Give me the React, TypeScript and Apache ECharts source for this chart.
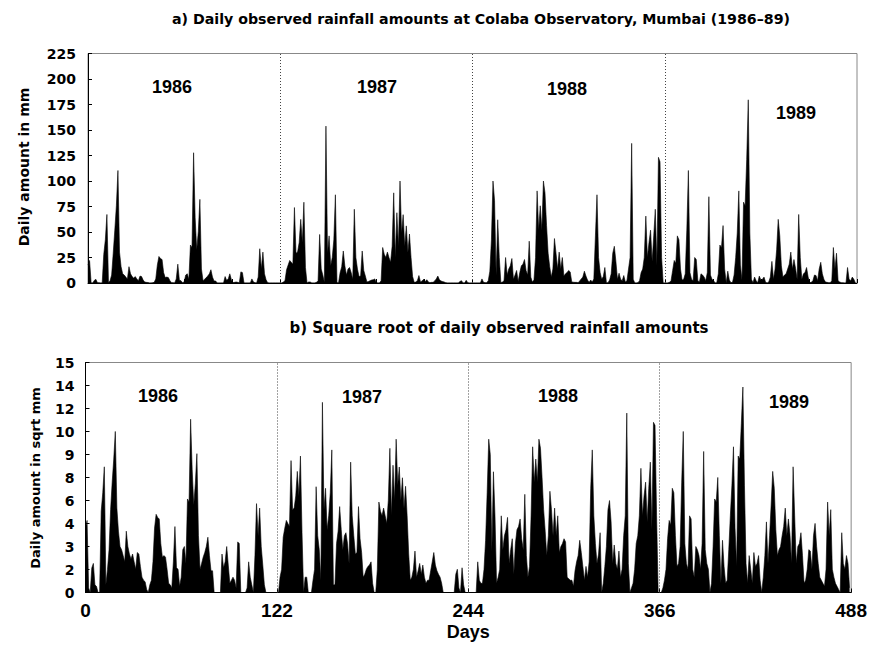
import React, { useEffect, useRef } from "react";
import * as echarts from "echarts";

// Daily rainfall (mm) at Colaba, June-September, 122 days per season
const rain1986 = [
  17.6, 22.1, 0.09, 0, 2.56, 3.6, 0.25, 0.16, 0, 0,
  28.1, 42.3, 67.2, 0.25, 2.25, 7.8, 29.2, 51.8, 75.7, 110.3,
  30.3, 16, 9, 7.8, 5.8, 4, 16, 9, 6.3, 4.8,
  6.3, 4, 2.3, 6.8, 6.3, 2.9, 1, 0.64, 0.49, 0.04,
  0, 0.25, 0.64, 4, 17.6, 26, 24, 23, 10.2, 5.3,
  5.8, 5.3, 2.3, 0.36, 0.25, 0.09, 4, 18.5, 2.6, 2.3,
  0.16, 1, 7.8, 9, 3.6, 37.2, 34.8, 127.7, 64, 32.5,
  50.4, 82, 13.7, 2.3, 3.6, 5.3, 6.8, 9, 13, 5.8,
  2, 2, 0, 0, 0, 0, 0, 6.3, 2.6, 4,
  9, 3.2, 0.36, 0.64, 1, 0.64, 0.09, 10.9, 10.2, 0,
  0, 0, 0, 0.09, 4, 1, 0.25, 0, 5.8, 33.6,
  13.7, 30.3, 9, 3.2, 0.25, 0, 0, 0, 0, 0,
  0, 0,
];
const rain1987 = [
  0, 0, 1, 2.3, 13, 17.6, 22.1, 20.3, 18.5, 74,
  29.2, 30.3, 39.7, 62.4, 39.7, 79.2, 15.2, 0, 1, 1,
  0, 0, 0, 0.64, 2.3, 47.6, 13.7, 7.8, 0.64, 153.8,
  29.2, 46.2, 16.8, 25, 42.3, 86.5, 0.25, 0.25, 10.2, 16,
  31.4, 16.8, 7.8, 13.7, 15.2, 10.2, 3.6, 72.3, 25, 13.7,
  6.3, 6.8, 31.4, 12.3, 6.8, 1, 1.4, 2.3, 2.9, 3.2,
  4, 0.36, 0, 0, 2.3, 34.8, 28.1, 25, 30.3, 25,
  20.3, 36, 88.4, 25, 68.9, 36, 100, 49, 67, 36,
  56, 30, 48, 25, 6.3, 0.64, 1, 2.3, 7.3, 1,
  2, 3.6, 1.4, 3.2, 1, 0.36, 0.64, 0.64, 2, 4,
  6.8, 3.2, 2, 1.4, 1, 0.36, 0, 0, 0, 0,
  0, 0, 0, 0, 1.4, 2.3, 0.09, 0, 2.6, 0.25,
  0, 0,
];
const rain1988 = [
  0, 0, 0, 0, 0, 0, 4, 0.64, 0.36, 0.36,
  2.3, 11.6, 42.3, 100, 81, 7.3, 62, 25, 0.36, 1,
  2.3, 25, 7.8, 13.7, 16.8, 24, 3.6, 7.8, 12.3, 1.4,
  10.2, 16.8, 18.5, 23, 12.3, 7.8, 41, 5.8, 1, 2.9,
  25, 90.3, 51.8, 75.7, 51.8, 100, 88.4, 56.3, 29.2, 16,
  5.8, 13.7, 43.6, 29.2, 13.7, 30.3, 13.7, 25, 6.8, 9,
  10.2, 12.3, 10.9, 1, 0.81, 0.64, 0.64, 0.16, 2, 4,
  5.8, 11.6, 6.8, 2.9, 0.64, 2.9, 1, 4, 46.2, 86.5,
  25, 10.2, 3.6, 6.3, 15.2, 0, 0.36, 2.9, 9, 29.2,
  36, 21.2, 3.6, 9.6, 3.6, 2.3, 7.3, 1, 2.3, 13.7,
  25, 136.9, 3.6, 0, 0.09, 0.36, 2.3, 10.2, 13.7, 25,
  65.6, 25, 39.7, 51.8, 21.2, 46.2, 72.3, 16.8, 123.2, 118.8,
  25, 0,
];
const rain1989 = [
  0, 0, 0.09, 0.64, 2.3, 12.3, 22.1, 19.4, 46.2, 42.3,
  13.7, 2.9, 3.6, 9, 51.8, 110.3, 10.2, 3.6, 2.3, 25,
  23, 2.3, 1, 9, 7.8, 5.8, 2.3, 10.2, 84.6, 7.8,
  3.6, 2.3, 0, 0.36, 9, 37.2, 34.8, 56.3, 13.7, 0.36,
  11.6, 2.9, 0.36, 0.64, 7.8, 25, 49, 90.3, 17.6, 2.9,
  79.2, 75.7, 121, 179.6, 49, 3.6, 0.36, 5.8, 2.3, 0.36,
  6.8, 2.9, 3.6, 5.8, 0.64, 0, 1, 5.8, 21.2, 3.6,
  13.7, 32.5, 62.4, 46.2, 16.8, 5.8, 7.8, 9, 13.7, 18.5,
  30.3, 13.7, 23, 14.4, 3.6, 67.2, 25, 3.6, 9, 10.2,
  15.2, 5.8, 0.36, 0.64, 2.3, 7.8, 7.3, 2.3, 13.7, 20.3,
  9, 3.6, 1, 0.64, 0.36, 0.16, 2.3, 34.8, 13.7, 29.2,
  2.3, 1, 0.36, 0.16, 0.04, 0, 15.2, 3.6, 2.3, 5.8,
  3.6, 0.09,
];

const seasons = ["1986", "1987", "1988", "1989"];
const seasonBreaks = [122, 244, 366];
const xLabelDays = [0, 122, 244, 366, 488];
const mmTicks = { min: 0, max: 225, step: 25 };
const sqrtTicks = { min: 0, max: 15, step: 1.5 };

const allRain = [...rain1986, ...rain1987, ...rain1988, ...rain1989];

// Excel-style rounding (half to even) of the 1.5-step tick values
function roundHalfEven(v: number): string {
  const f = Math.floor(v);
  const d = v - f;
  if (Math.abs(d - 0.5) < 1e-9) return String(f % 2 === 0 ? f : f + 1);
  return String(Math.round(v));
}

const YEAR_FONT = 'bold 18px "Liberation Sans"';

export default function App() {
  const ref = useRef<HTMLDivElement>(null);
  useEffect(() => {
    if (!ref.current) return;
    const chart = echarts.init(ref.current, undefined, { renderer: "svg" });
    const topData = allRain.map((v, i) => [i, v]);
    const botData = allRain.map((v, i) => [i, Math.sqrt(v)]);

    const markLine = {
      silent: true,
      symbol: ["none", "none"],
      label: { show: false },
      lineStyle: { type: [1, 2], color: "#444", width: 1 },
      data: seasonBreaks.map((d) => ({ xAxis: d })),
    };
    const areaSeries = (xi: number, data: number[][]) => ({
      type: "line",
      xAxisIndex: xi,
      yAxisIndex: xi,
      data,
      symbol: "none",
      showSymbol: false,
      lineStyle: { color: "#000", width: 0.6 },
      areaStyle: { color: "#000", opacity: 1 },
      markLine,
      z: 2,
    });

    const xAxisBase = {
      type: "value",
      min: 0,
      max: 488,
      interval: 30.5,
      axisLine: { show: true, onZero: false, lineStyle: { color: "#000", width: 1 } },
      axisTick: { show: true, inside: true, length: 4, lineStyle: { color: "#000" } },
      splitLine: { show: false },
    };
    const yLabel = {
      fontFamily: "DejaVu Sans",
      fontWeight: "bold",
      fontSize: 14,
      color: "#000",
    };
    const yAxisBase = {
      type: "value",
      axisLine: { show: true, lineStyle: { color: "#000", width: 1 } },
      axisTick: { show: true, inside: true, length: 4, lineStyle: { color: "#000" } },
      splitLine: { show: false },
    };

    const yearPos = [
      [172, 87, 158, 396],
      [377, 87, 362, 397],
      [567, 89, 558, 396],
      [796, 113, 789, 402],
    ];

    chart.setOption({
      animation: false,
      backgroundColor: "#fff",
      grid: [
        { left: 88, top: 53.5, width: 769, height: 229.5, show: true, borderColor: "#888", borderWidth: 1 },
        { left: 85.5, top: 362.5, width: 769, height: 230, show: true, borderColor: "#888", borderWidth: 1 },
      ],
      xAxis: [
        { ...xAxisBase, gridIndex: 0, axisLabel: { show: false } },
        {
          ...xAxisBase,
          gridIndex: 1,
          axisLabel: {
            show: true,
            margin: 8,
            fontFamily: "Liberation Sans",
            fontWeight: "bold",
            fontSize: 19,
            color: "#000",
            formatter: (v: number) => (xLabelDays.includes(v) ? String(v) : ""),
          },
          name: "Days",
          nameLocation: "middle",
          nameGap: 30,
          nameTextStyle: { fontFamily: "Liberation Sans", fontWeight: "bold", fontSize: 18, color: "#000" },
        },
      ],
      yAxis: [
        {
          ...yAxisBase,
          gridIndex: 0,
          min: mmTicks.min,
          max: mmTicks.max,
          interval: mmTicks.step,
          axisLabel: { ...yLabel, margin: 12 },
        },
        {
          ...yAxisBase,
          gridIndex: 1,
          min: sqrtTicks.min,
          max: sqrtTicks.max,
          interval: sqrtTicks.step,
          axisLabel: { ...yLabel, margin: 11, formatter: (v: number) => roundHalfEven(v) },
        },
      ],
      series: [areaSeries(0, topData), areaSeries(1, botData)],
      graphic: [
        {
          type: "text",
          x: 481,
          y: 19,
          style: {
            text: "a) Daily observed rainfall amounts at Colaba Observatory, Mumbai (1986–89)",
            font: 'bold 14.2px "DejaVu Sans"',
            fill: "#000",
            textAlign: "center",
            textVerticalAlign: "middle",
          },
        },
        {
          type: "text",
          x: 499,
          y: 328,
          style: {
            text: "b) Square root of daily observed rainfall amounts",
            font: 'bold 15px "DejaVu Sans"',
            fill: "#000",
            textAlign: "center",
            textVerticalAlign: "middle",
          },
        },
        {
          type: "text",
          x: 24,
          y: 167,
          rotation: Math.PI / 2,
          style: {
            text: "Daily amount in mm",
            font: 'bold 14px "DejaVu Sans"',
            fill: "#000",
            textAlign: "center",
            textVerticalAlign: "middle",
          },
        },
        {
          type: "text",
          x: 35.5,
          y: 478,
          rotation: Math.PI / 2,
          style: {
            text: "Daily amount in sqrt mm",
            font: 'bold 13px "DejaVu Sans"',
            fill: "#000",
            textAlign: "center",
            textVerticalAlign: "middle",
          },
        },
        ...seasons.flatMap((s, i) => [
          {
            type: "text",
            x: yearPos[i][0],
            y: yearPos[i][1],
            style: { text: s, font: YEAR_FONT, fill: "#000", textAlign: "center", textVerticalAlign: "middle" },
            z: 10,
          },
          {
            type: "text",
            x: yearPos[i][2],
            y: yearPos[i][3],
            style: { text: s, font: YEAR_FONT, fill: "#000", textAlign: "center", textVerticalAlign: "middle" },
            z: 10,
          },
        ]),
      ],
    });
    return () => chart.dispose();
  }, []);
  return (
    <div
      ref={ref}
      style={{ position: "fixed", left: 0, top: 0, width: 870, height: 647, background: "#fff" }}
    />
  );
}
